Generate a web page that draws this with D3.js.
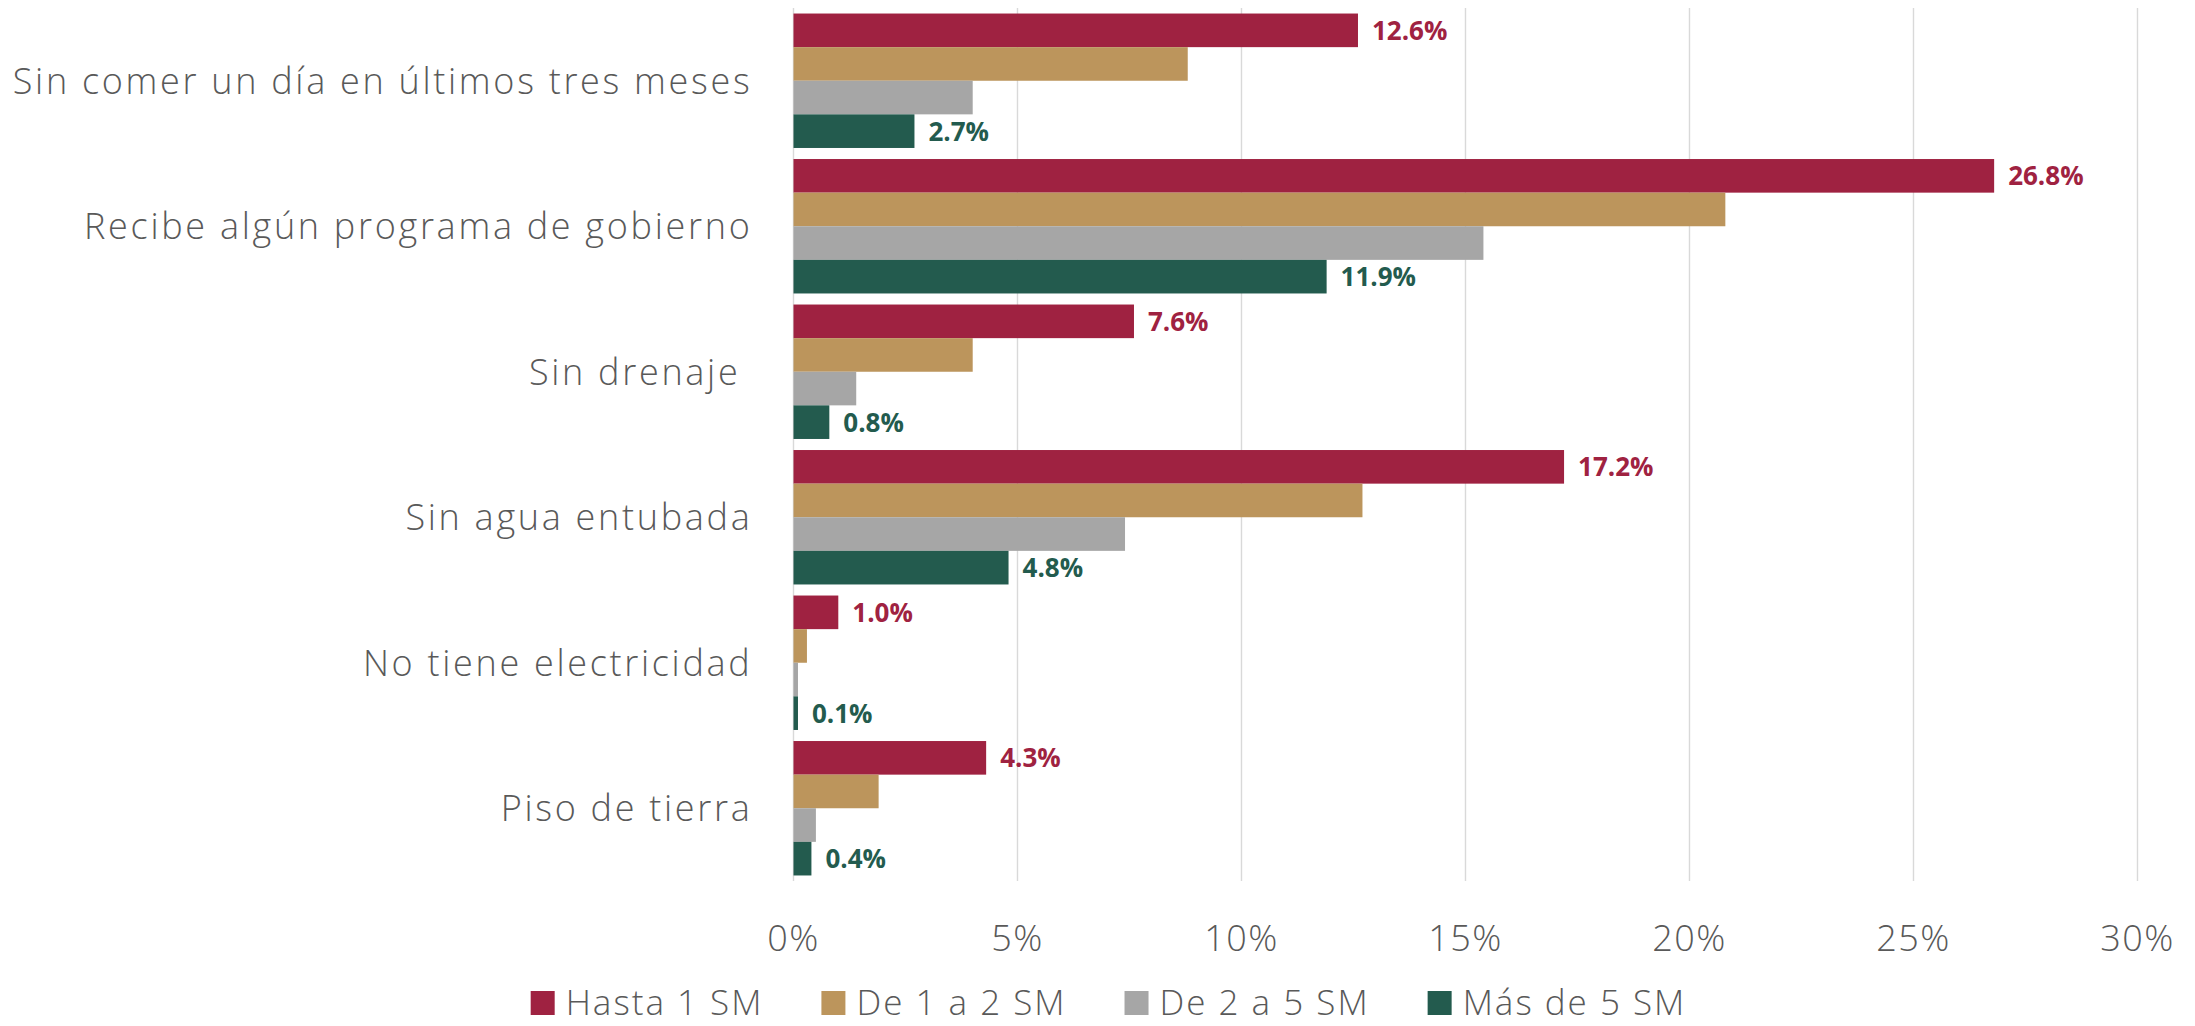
<!DOCTYPE html>
<html>
<head>
<meta charset="utf-8">
<script src="https://cdn.jsdelivr.net/npm/d3@7"></script>
<style>
  html, body { margin: 0; padding: 0; background: #fff; }
  svg { display: block; }
  text { white-space: pre; }
</style>
</head>
<body>
<svg id="chart" width="2195" height="1026"></svg>
<script>
const categories = [
  "Sin comer un día en últimos tres meses",
  "Recibe algún programa de gobierno",
  "Sin drenaje ",
  "Sin agua entubada",
  "No tiene electricidad",
  "Piso de tierra"
];
const seriesNames = ["Hasta 1 SM", "De 1 a 2 SM", "De 2 a 5 SM", "Más de 5 SM"];
const hasta1SM = [12.6, 26.8, 7.6, 17.2, 1.0, 4.3];
const de1a2SM  = [8.8, 20.8, 4.0, 12.7, 0.3, 1.9];
const de2a5SM  = [4.0, 15.4, 1.4, 7.4, 0.1, 0.5];
const mas5SM   = [2.7, 11.9, 0.8, 4.8, 0.1, 0.4];
const xTicks = [0, 5, 10, 15, 20, 25, 30];
const labelledSeries = [0, 3];
const colors = ["#9F2241", "#BC955C", "#A6A6A6", "#235B4E"];

const seriesValues = [hasta1SM, de1a2SM, de2a5SM, mas5SM];

const svg = d3.select("#chart");
const plot = { left: 793.5, right: 2137.5, top: 8, bottom: 881 };
const FONT = "'Open Sans', 'Noto Sans', sans-serif";
const textColor = "#595959";

const x = d3.scaleLinear().domain([0, 30]).range([plot.left, plot.right]);
const y = d3.scaleBand().domain(categories).range([plot.top, plot.bottom])
  .paddingInner(0.076).paddingOuter(0.038);
const ySub = d3.scaleBand().domain(d3.range(seriesNames.length)).range([0, y.bandwidth()]);

// gridlines
svg.append("g").selectAll("line").data(xTicks).join("line")
  .attr("x1", d => x(d)).attr("x2", d => x(d))
  .attr("y1", plot.top).attr("y2", plot.bottom)
  .attr("stroke", "#d9d9d9").attr("stroke-width", 1.4);

// bars
const groups = svg.append("g").selectAll("g").data(categories).join("g")
  .attr("transform", d => `translate(0,${y(d)})`);

groups.selectAll("rect")
  .data((c, i) => seriesValues.map((vals, s) => ({ s, v: vals[i] })))
  .join("rect")
  .attr("x", x(0))
  .attr("y", d => ySub(d.s))
  .attr("width", d => x(d.v) - x(0))
  .attr("height", ySub.bandwidth())
  .attr("fill", d => colors[d.s]);

groups.selectAll("text.val")
  .data((c, i) => labelledSeries.map(s => ({ s, v: seriesValues[s][i] })))
  .join("text")
  .attr("class", "val")
  .attr("x", d => x(d.v) + 14)
  .attr("y", d => ySub(d.s) + ySub.bandwidth() / 2)
  .attr("dy", "0.36em")
  .attr("font-family", FONT)
  .attr("font-weight", 700)
  .attr("font-size", 26)
  .attr("fill", d => colors[d.s])
  .text(d => d.v.toFixed(1) + "%");

// category labels
svg.append("g").selectAll("text").data(categories).join("text")
  .attr("x", plot.left - 41)
  .attr("y", d => y(d) + y.bandwidth() / 2)
  .attr("dy", "0.36em")
  .attr("text-anchor", "end")
  .attr("font-family", FONT)
  .attr("font-weight", 300)
  .attr("font-size", 36)
  .attr("letter-spacing", 2.7)
  .attr("fill", textColor)
  .text(d => d);

// x tick labels
svg.append("g").selectAll("text").data(xTicks).join("text")
  .attr("x", d => x(d))
  .attr("y", 938)
  .attr("dy", "0.36em")
  .attr("text-anchor", "middle")
  .attr("font-family", FONT)
  .attr("font-weight", 300)
  .attr("font-size", 36)
  .attr("letter-spacing", 1.5)
  .attr("fill", textColor)
  .text(d => d + "%");

// legend
const legend = svg.append("g");
const items = legend.selectAll("g").data(seriesNames).join("g");
items.append("rect").attr("width", 24).attr("height", 24).attr("y", -10)
  .attr("fill", (d, i) => colors[i]);
items.append("text")
  .attr("x", 35).attr("y", 0).attr("dy", "0.4em")
  .attr("font-family", FONT)
  .attr("font-weight", 300)
  .attr("font-size", 35)
  .attr("letter-spacing", 2)
  .attr("fill", textColor)
  .text(d => d);
let cx = 0;
const offsets = [];
items.each(function () {
  offsets.push(cx);
  const w = this.querySelector("text").getComputedTextLength() + 35;
  cx += w + 58;
});
const total = cx - 58;
const startX = 1108.5 - total / 2;
items.attr("transform", (d, i) => `translate(${startX + offsets[i]},1001)`);
</script>
</body>
</html>
